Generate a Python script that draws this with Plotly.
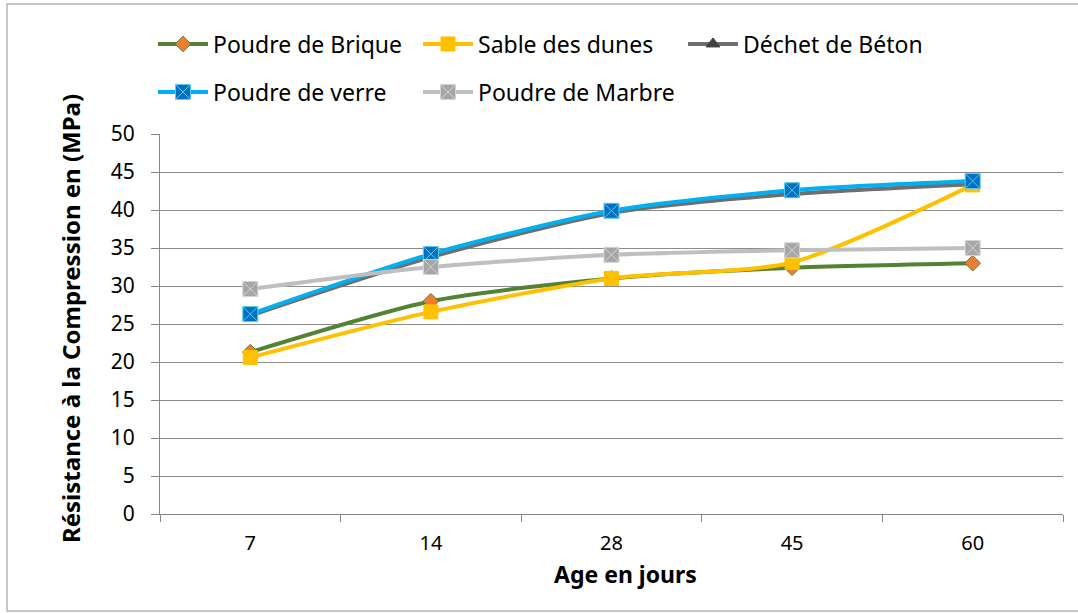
import plotly.graph_objects as go

# Age of specimens (days) and compressive strength (MPa) per addition
ages = ["7", "14", "28", "45", "60"]
poudre_brique = [21.3, 28.0, 31.0, 32.4, 33.0]
sable_dunes = [20.6, 26.6, 31.0, 33.1, 43.3]
dechet_beton = [26.1, 33.8, 39.6, 42.1, 43.4]
poudre_verre = [26.3, 34.2, 39.9, 42.6, 43.8]
poudre_marbre = [29.6, 32.5, 34.1, 34.7, 35.0]
y_ticks = [0, 5, 10, 15, 20, 25, 30, 35, 40, 45, 50]

W, H = 1078, 613
L, R, T, B = 160, 15, 134, 99
FONT = "Noto Sans"

series = [
    ("Poudre de Brique", poudre_brique, "#548235", dict(symbol="diamond", size=12, color="#ED7D31", line=dict(color="#548235", width=1)), "legend"),
    ("Sable des dunes", sable_dunes, "#FFC000", dict(symbol="square", size=14, color="#FFC000", line=dict(color="#FFC000", width=1)), "legend"),
    ("Déchet de Béton", dechet_beton, "#6E6E6E", dict(symbol="triangle-up", size=12, color="#404040", line=dict(color="#404040", width=1)), "legend"),
    ("Poudre de verre", poudre_verre, "#00B0F0", dict(symbol="square-x", size=15, color="#0070C0", line=dict(color="#5BC8F5", width=1)), "legend2"),
    ("Poudre de Marbre", poudre_marbre, "#BFBFBF", dict(symbol="square-x", size=15, color="#A6A6A6", line=dict(color="#D4D4D4", width=1)), "legend2"),
]

fig = go.Figure()
for name, vals, col, mk, lg in series:
    fig.add_trace(go.Scatter(
        x=ages, y=vals, name=name, mode="lines+markers",
        line=dict(color=col, width=4, shape="spline", smoothing=0.7),
        marker=mk, legend=lg,
    ))

pw = W - L - R
ph = H - T - B

def px_x(px):
    return (px - L) / pw

def px_y(py):
    return (H - B - py) / ph

legend_common = dict(
    orientation="h", xanchor="left", yanchor="middle",
    font=dict(family=FONT, size=23, color="#000000"),
    entrywidth=200, entrywidthmode="pixels",
    bgcolor="rgba(0,0,0,0)", itemwidth=50,
)

fig.update_layout(
    width=W, height=H,
    margin=dict(l=L, r=R, t=T, b=B),
    paper_bgcolor="white", plot_bgcolor="white",
    font=dict(family=FONT, size=21, color="#000000"),
    legend=dict(x=px_x(153), y=px_y(44), **legend_common),
    legend2=dict(x=px_x(153), y=px_y(92), **legend_common),
    xaxis=dict(
        type="category", range=[-0.5, 4.5], tickson="boundaries",
        ticks="outside", ticklen=7, ticklabelstandoff=11,
        tickcolor="#868686", showline=True, linecolor="#868686", linewidth=1,
        showgrid=False, tickfont=dict(family=FONT, size=20),
    ),
    yaxis=dict(
        range=[0, 50], tickvals=y_ticks, ticks="outside", ticklen=8,
        ticklabelstandoff=12,
        tickcolor="#868686", showline=True, linecolor="#868686", linewidth=1,
        showgrid=True, gridcolor="#8C8C8C", gridwidth=1, zeroline=False,
        tickfont=dict(family=FONT, size=21),
    ),
)

# Axis titles
fig.add_annotation(
    text="<b>Age en jours</b>", xref="paper", yref="paper",
    x=px_x(625), y=px_y(574), xanchor="center", yanchor="middle",
    showarrow=False, font=dict(family=FONT, size=23, color="#000000"),
)
fig.add_annotation(
    text="<b>Résistance à la Compression en (MPa)</b>", xref="paper", yref="paper",
    x=px_x(70), y=px_y(319), xanchor="center", yanchor="middle", textangle=-90,
    showarrow=False, font=dict(family=FONT, size=24, color="#000000"),
)

# Outer chart frame (runs past the right edge)
fig.add_shape(
    type="rect", xref="paper", yref="paper",
    x0=px_x(7), x1=px_x(1090), y0=px_y(611), y1=px_y(4),
    line=dict(color="#B4B4B4", width=1.5), fillcolor="rgba(0,0,0,0)", layer="below",
)

fig.write_html("out.html")
